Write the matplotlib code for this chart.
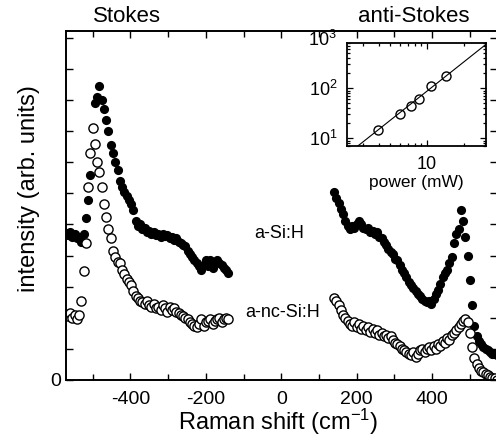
import matplotlib
matplotlib.use('Agg')
import matplotlib.pyplot as plt
import matplotlib.transforms as mtransforms
import numpy as np
from matplotlib.ticker import MultipleLocator, LogLocator, NullFormatter

plt.rcParams['font.family'] = 'Liberation Sans'
plt.rcParams['mathtext.fontset'] = 'custom'
plt.rcParams['mathtext.rm'] = 'Liberation Sans'
plt.rcParams['mathtext.it'] = 'Liberation Sans:italic'
plt.rcParams['mathtext.bf'] = 'Liberation Sans:bold'
plt.rcParams['axes.unicode_minus'] = False

# Raman shift channels (cm^-1)
stokes_x = [-572, -566, -560, -554, -548, -542, -536, -530, -524, -518, -512, -506,
            -500, -494, -488, -482, -476, -470, -464, -458, -452, -446, -440, -434,
            -428, -422, -416, -410, -404, -398, -392, -386, -380, -374, -368, -362,
            -356, -350, -344, -338, -332, -326, -320, -314, -308, -302, -296, -290,
            -284, -278, -272, -266, -260, -254, -248, -242, -236, -230, -224, -218,
            -212, -206, -200, -194, -188, -182, -176, -170, -164, -158, -152, -146, -140]
anti_x = [140, 146, 152, 158, 164, 170, 176, 182, 188, 194, 200, 206,
          212, 218, 224, 230, 236, 242, 248, 254, 260, 266, 272, 278,
          284, 290, 296, 302, 308, 314, 320, 326, 332, 338, 344, 350,
          356, 362, 368, 374, 380, 386, 392, 398, 404, 410, 416, 422,
          428, 434, 440, 446, 452, 458, 464, 470, 476, 482, 488, 494,
          500, 506, 512, 518, 524, 530, 536, 542, 548, 554, 560, 566, 572]

# a-Si:H (filled)
asi_stokes = [4.72, 4.65, 4.75, 4.6, 4.68, 4.55, 4.6, 4.45, 4.7, 5.2, 5.8, 6.6,
              8.1, 8.9, 9.1, 9.45, 9.0, 8.7, 8.35, 8.0, 7.55, 7.3, 7.0, 6.75,
              6.4, 6.2, 6.05, 5.9, 5.8, 5.65, 5.45, 5.1, 4.95, 5.0, 4.85, 4.9,
              4.75, 4.8, 4.7, 4.75, 4.65, 4.7, 4.6, 4.68, 4.62, 4.65, 4.55, 4.6,
              4.5, 4.55, 4.45, 4.4, 4.35, 4.3, 4.15, 4.05, 3.95, 3.85, 3.75, 3.65,
              3.55, 3.7, 3.85, 3.65, 3.85, 3.6, 3.8, 3.85, 3.75, 3.7, 3.6, 3.55, 3.45]
asi_anti = [6.05, 5.85, 5.7, 5.5, 5.35, 5.1, 4.95, 4.85, 4.95, 4.9, 5.0, 5.1,
            5.0, 4.9, 4.85, 4.9, 4.75, 4.8, 4.7, 4.75, 4.6, 4.55, 4.45, 4.35,
            4.2, 4.1, 4.05, 3.9, 3.85, 3.7, 3.55, 3.45, 3.3, 3.15, 3.05, 2.95,
            2.85, 2.75, 2.7, 2.6, 2.55, 2.5, 2.55, 2.45, 2.6, 2.75, 2.9, 3.1,
            3.3, 3.45, 3.55, 3.75, 3.95, 4.4, 4.7, 4.85, 5.45, 5.1, 4.6, 4.0,
            3.2, 2.4, 1.75, 1.4, 1.25, 1.15, 1.05, 1.0, 0.95, 0.9, 0.85, 0.85, 0.8]

# a-nc-Si:H (open)
ncsi_stokes = [2.1, 2.05, 2.15, 2.0, 2.1, 1.95, 2.1, 2.55, 3.5, 4.4, 6.2, 7.3,
               8.1, 7.6, 7.0, 6.7, 6.2, 5.65, 5.25, 4.85, 4.55, 4.15, 3.95, 3.8,
               3.75, 3.55, 3.4, 3.25, 3.15, 3.05, 2.85, 2.7, 2.65, 2.55, 2.5, 2.45,
               2.55, 2.4, 2.35, 2.45, 2.3, 2.35, 2.25, 2.4, 2.3, 2.2, 2.35, 2.25,
               2.3, 2.2, 2.15, 2.1, 2.05, 2.0, 1.95, 1.85, 1.8, 1.75, 1.7, 1.8,
               1.95, 1.75, 1.85, 1.9, 1.95, 1.8, 1.9, 1.95, 2.0, 1.85, 1.95, 2.0, 1.95]
ncsi_anti = [2.65, 2.55, 2.4, 2.25, 2.1, 2.0, 1.9, 1.8, 1.75, 1.85, 1.7, 1.8,
             1.65, 1.75, 1.6, 1.7, 1.55, 1.65, 1.5, 1.6, 1.45, 1.5, 1.4, 1.45,
             1.35, 1.4, 1.3, 1.2, 1.15, 1.1, 1.0, 0.95, 0.9, 0.85, 0.8, 0.9,
             0.75, 0.85, 0.95, 1.0, 0.9, 1.0, 1.05, 0.95, 1.1, 1.0, 1.15, 1.1,
             1.25, 1.2, 1.35, 1.3, 1.45, 1.5, 1.6, 1.7, 1.8, 1.9, 1.95, 1.85,
             1.5, 1.05, 0.7, 0.5, 0.4, 0.3, 0.25, 0.2, 0.15, 0.1, 0.05, 0.05, 0.0]

# inset: anti-Stokes intensity vs laser power
power = [3.96, 5.96, 7.44, 8.53, 10.8, 14.3]
signal = [14.7, 29.9, 43.2, 60.7, 110, 175]
fit_prefactor = 1.03
fit_exponent = 1.93

fig = plt.figure(figsize=(4.96, 4.47), dpi=100)
ax = fig.add_axes([65.5/496, 1-380/447, 431.5/496, 349/447])

ax.plot(stokes_x, asi_stokes, 'o', color='black', ms=6.6, mew=0)
ax.plot(anti_x, asi_anti, 'o', color='black', ms=6.6, mew=0)
ax.plot(stokes_x, ncsi_stokes, 'o', mfc='white', mec='black', ms=6.6, mew=1.0)
ax.plot(anti_x, ncsi_anti, 'o', mfc='white', mec='black', ms=6.6, mew=1.0)

ax.set_xlim(-572, 572)
ax.set_ylim(0, 11.22)
ax.xaxis.set_major_locator(MultipleLocator(200))
ax.xaxis.set_minor_locator(MultipleLocator(100))
ax.set_yticks(range(0, 12))
ax.set_yticklabels(['0'] + [''] * 11)
ax.tick_params(which='both', direction='in', top=True, right=True, width=1.0,
               labelsize=14)
ax.tick_params(which='major', length=5)
ax.tick_params(which='minor', length=4)
ax.tick_params(axis='x', pad=8)
ax.tick_params(axis='y', pad=3)
for s in ax.spines.values():
    s.set_linewidth(1.4)

ax.text(-5, 4.7, 'a-Si:H', ha='center', va='center', fontsize=13)
ax.text(3, 2.16, 'a-nc-Si:H', ha='center', va='center', fontsize=13)

fig.text(127/496, 1-22/447, 'Stokes', ha='center', va='baseline', fontsize=16)
fig.text(414/496, 1-22/447, 'anti-Stokes', ha='center', va='baseline', fontsize=16)
fig.text(278/496, 1-430/447, 'Raman shift (cm$^{-1}$)', ha='center', va='baseline',
         fontsize=17)
fig.text(29/496, 1-189/447, 'intensity (arb. units)', rotation=90, ha='center',
         va='center', fontsize=17)

# inset
axin = fig.add_axes([347/496, 1-146/447, 139/496, 103/447])
pfit = np.geomspace(2.0, 32, 50)
axin.loglog(pfit, fit_prefactor * pfit ** fit_exponent, color='black', lw=0.8)
axin.loglog(power, signal, 'o', mfc='none', mec='black', ms=6.5, mew=1.0)
axin.set_xlim(2.2, 30.5)
axin.set_ylim(7.0, 802)
axin.set_xticks([10])
axin.set_xticklabels(['10'])
axin.xaxis.set_minor_locator(LogLocator(base=10, subs=np.arange(2, 10)))
axin.xaxis.set_minor_formatter(NullFormatter())
axin.set_yticks([10, 100])
axin.set_yticklabels(['$10^{1}$', '$10^{2}$'])
axin.yaxis.set_minor_locator(LogLocator(base=10, subs=np.arange(2, 10)))
axin.yaxis.set_minor_formatter(NullFormatter())
axin.tick_params(which='both', direction='in', top=True, right=True, width=0.9,
                 labelsize=13)
axin.tick_params(which='major', length=4, pad=7)
axin.tick_params(which='minor', length=2.5)
for s in axin.spines.values():
    s.set_linewidth(1.3)
axin.set_xlabel('power (mW)', fontsize=12.5, labelpad=2)
trans = mtransforms.blended_transform_factory(axin.transAxes, axin.transData)
axin.text(-0.072, 1000, '$10^{3}$', transform=trans, ha='right',
          va='center_baseline', fontsize=13)

fig.savefig('out.png', dpi=100)
